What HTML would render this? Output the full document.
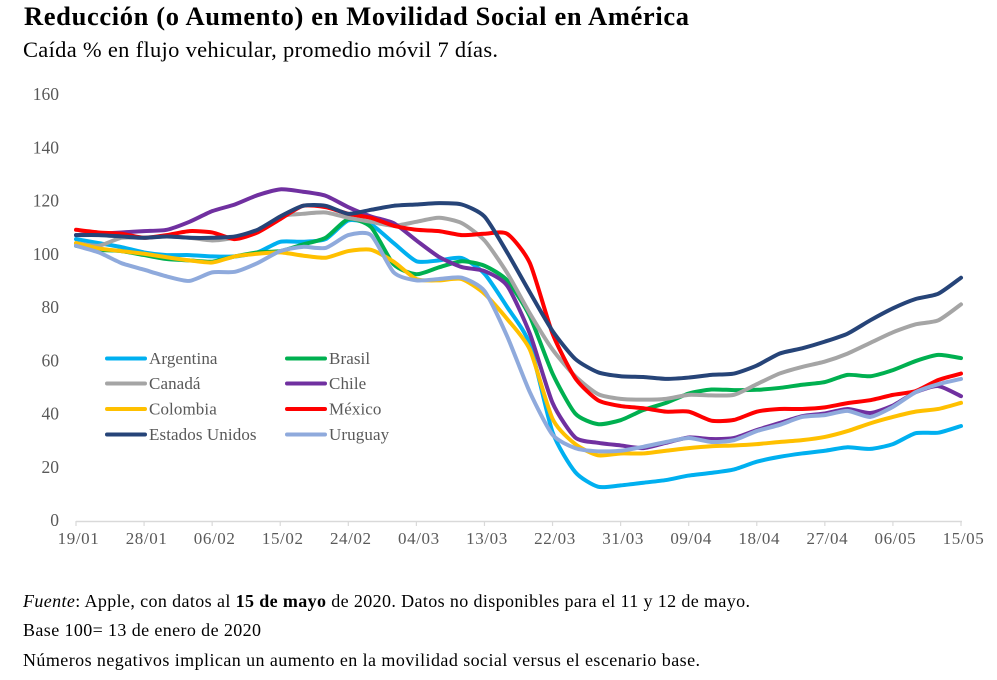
<!DOCTYPE html>
<html lang="es">
<head>
<meta charset="utf-8">
<title>Reducción (o Aumento) en Movilidad Social en América</title>
<style>
html,body{margin:0;padding:0;background:#fff;width:997px;height:680px;overflow:hidden}
svg{display:block}
text{font-family:"Liberation Serif",serif}
</style>
</head>
<body>
<svg id="chart" width="997" height="680" viewBox="0 0 997 680" xmlns="http://www.w3.org/2000/svg">
  <rect width="997" height="680" fill="#ffffff"/>
  <text x="24" y="25" font-size="26.5" font-weight="bold" fill="#000" textLength="665" lengthAdjust="spacing">Reducción (o Aumento) en Movilidad Social en América</text>
  <text x="23" y="57" font-size="22.5" fill="#000" textLength="475" lengthAdjust="spacing">Caída % en flujo vehicular, promedio móvil 7 días.</text>
  <g id="y-axis"></g>
  <g id="x-axis"></g>
  <g id="series"></g>
  <g id="legend"></g>
  <text x="23" y="607" font-size="18" fill="#000" textLength="727" lengthAdjust="spacing"><tspan font-style="italic">Fuente</tspan>: Apple, con datos al <tspan font-weight="bold">15 de mayo</tspan> de 2020. Datos no disponibles para el 11 y 12 de mayo.</text>
  <text x="23" y="636" font-size="18" fill="#000" textLength="238" lengthAdjust="spacing">Base 100= 13 de enero de 2020</text>
  <text x="23" y="666" font-size="18" fill="#000" textLength="677" lengthAdjust="spacing">Números negativos implican un aumento en la movilidad social versus el escenario base.</text>
</svg>
<script>
var dates = ["19/01","22/01","25/01","28/01","31/01","03/02","06/02","09/02","12/02","15/02","18/02","21/02","24/02","27/02","01/03","04/03","07/03","10/03","13/03","16/03","19/03","22/03","25/03","28/03","31/03","03/04","06/04","09/04","12/04","15/04","18/04","21/04","24/04","27/04","30/04","03/05","06/05","09/05","12/05","15/05"];
var xTickLabels = ["19/01","28/01","06/02","15/02","24/02","04/03","13/03","22/03","31/03","09/04","18/04","27/04","06/05","15/05"];
var yTickLabels = [0,20,40,60,80,100,120,140,160];
var argentina = [105.5,104,102.5,100.5,99.5,99.5,99,99,100.5,104.5,104.5,105.5,112.5,111,104,97.2,97.5,98.4,92.5,80,66,33,18,12.5,13,14,15,16.7,17.7,19,21.9,23.7,25,26,27.3,26.7,28.5,32.6,32.8,35.3];
var brasil = [103,101.5,101,99.5,98,97.5,97,99,100.5,101,103.5,106,113,110,96,92.3,94.9,97.2,95.5,90,76.5,55,40,36,37.5,41.3,44,47.5,49,48.8,48.9,49.6,50.8,51.8,54.5,54,56.3,59.7,62,60.8];
var canada = [104,103,106,106,106.5,106,105,106,108,114,115,115.5,113.5,112,110.5,112,113.5,111.5,105,92.8,77.6,64,54,47.3,45.5,45.2,45.5,47,46.8,47,51,55,57.5,59.5,62.5,66.5,70.5,73.5,75,81];
var chile = [107,107.5,108,108.5,109,112,116,118.5,122,124.2,123.3,121.8,117.5,114,111.5,105,98.8,95,93.5,88,70,44,31,29,28,27,29,31,30.4,30.8,33.8,36.4,39,40,41.7,40.2,43,48,50.3,46.5];
var colombia = [104,102,101,100,98.7,97.5,96.7,99,100,100.5,99.3,98.5,101,101.5,97,90.5,90,90.5,85,75.5,64,38,28.5,24.3,25,25,26,27,27.7,28,28.5,29.3,30,31.2,33.4,36.3,38.7,40.7,41.7,44];
var mexico = [109,108,107.5,106,107,108.5,108,105.5,108,113,118,117.5,115,113.5,110.5,109,108.5,107,107.5,107.5,96.5,70,53.3,45,42.8,42,40.7,40.7,37.3,37.6,40.7,41.7,41.7,42.3,43.9,45,47,48.4,52.6,55];
var estadosUnidos = [107,107,106.5,106,106.5,106,106,106.5,109,114,118,118,115,116.5,118,118.5,119,118.5,114,100.5,85.5,71,60.5,55.5,54,53.7,53,53.5,54.5,55,58,62.5,64.5,67,70,75,79.5,83,85,91];
var uruguay = [103,100.5,96.5,94,91.5,89.8,93,93.2,96.5,101,102.6,102.2,107,107,93,90,90.5,91,86,69,48,32,27,25.8,26,27.5,29.3,30.8,29.3,30,33.4,35.7,38.7,39.4,41,38.7,42.5,48,51,53];

var NS = "http://www.w3.org/2000/svg";
var plotLeft = 76, plotRight = 961, plotBottom = 520, plotTop = 94, yMax = 160;
function xScale(i){ return plotLeft + i * (plotRight - plotLeft) / (dates.length - 1); }
function yScale(v){ return plotBottom - v * (plotBottom - plotTop) / yMax; }
function smoothPath(vals){
  var pts = vals.map(function(v,i){ return [xScale(i), yScale(v)]; });
  var d = "M" + pts[0][0].toFixed(2) + " " + pts[0][1].toFixed(2);
  for (var i = 0; i < pts.length - 1; i++) {
    var p0 = pts[Math.max(i-1,0)], p1 = pts[i], p2 = pts[i+1], p3 = pts[Math.min(i+2,pts.length-1)];
    var k = 0.11;
    d += " C" + (p1[0]+(p2[0]-p0[0])*k).toFixed(2) + " " + (p1[1]+(p2[1]-p0[1])*k).toFixed(2) + " " +
         (p2[0]-(p3[0]-p1[0])*k).toFixed(2) + " " + (p2[1]-(p3[1]-p1[1])*k).toFixed(2) + " " +
         p2[0].toFixed(2) + " " + p2[1].toFixed(2);
  }
  return d;
}
function make(tag, parent, attrs, txt){
  var el = document.createElementNS(NS, tag);
  for (var k in attrs) el.setAttribute(k, attrs[k]);
  if (txt !== undefined) el.textContent = txt;
  parent.appendChild(el);
  return el;
}

var yAxis = document.getElementById("y-axis");
yTickLabels.forEach(function(v){
  var t = make("text", yAxis, {x:59, y:yScale(v)+6, "font-size":17.5, "text-anchor":"end", fill:"#595959"}, String(v));
  
  
});

var xAxis = document.getElementById("x-axis");
var axisLine = make("line", xAxis, {x1:xScale(0), x2:xScale(dates.length-1)+1, y1:521.5, y2:521.5, stroke:"#d9d9d9", "stroke-width":1.5});


xTickLabels.forEach(function(lbl){
  var i = dates.indexOf(lbl);
  var tick = make("line", xAxis, {x1:xScale(i), x2:xScale(i), y1:521, y2:526, stroke:"#d9d9d9", "stroke-width":1.2});
  
  
  var t = make("text", xAxis, {x:xScale(i)+2.5, y:544, "font-size":17, "text-anchor":"middle", fill:"#595959", "letter-spacing":"0.6"}, lbl);
  
  
});

var seriesList = [
  {name:"Argentina", color:"#00b0f0", values:argentina, slug:"argentina"},
  {name:"Brasil", color:"#00b050", values:brasil, slug:"brasil"},
  {name:"Canadá", color:"#a5a5a5", values:canada, slug:"canada"},
  {name:"Chile", color:"#7030a0", values:chile, slug:"chile"},
  {name:"Colombia", color:"#ffc000", values:colombia, slug:"colombia"},
  {name:"México", color:"#ff0000", values:mexico, slug:"mexico"},
  {name:"Estados Unidos", color:"#264478", values:estadosUnidos, slug:"estados-unidos"},
  {name:"Uruguay", color:"#8faadc", values:uruguay, slug:"uruguay"}
];
var seriesGroup = document.getElementById("series");
seriesList.forEach(function(s){
  var p = make("path", seriesGroup, {d:smoothPath(s.values), fill:"none", stroke:s.color, "stroke-width":4, "stroke-linecap":"round", "stroke-linejoin":"round"});
  
  
});

var legendGroup = document.getElementById("legend");
var legendColX = [105, 285], legendRowY = [358.5, 383.5, 409, 434.5];
seriesList.forEach(function(s, i){
  var col = i % 2, row = Math.floor(i / 2);
  var lx = legendColX[col], ly = legendRowY[row];
  var l = make("line", legendGroup, {x1:lx+2, x2:lx+40, y1:ly, y2:ly, stroke:s.color, "stroke-width":4, "stroke-linecap":"round"});
  
  
  var t = make("text", legendGroup, {x:lx+44, y:ly+5.5, "font-size":17, fill:"#595959", "letter-spacing":"0.1"}, s.name);
  
  
});
</script>
</body>
</html>
